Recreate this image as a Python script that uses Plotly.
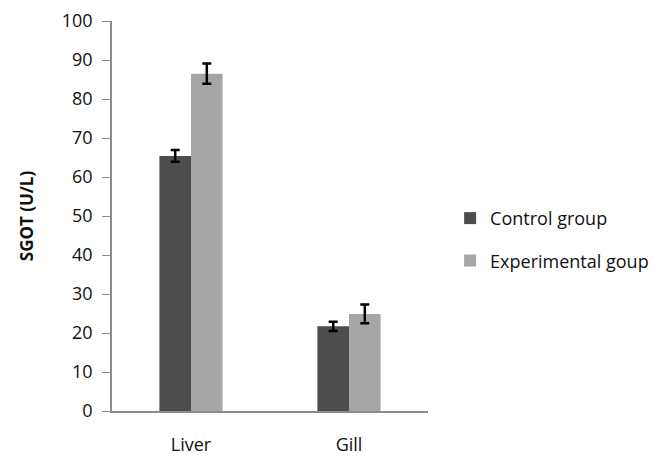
import plotly.graph_objects as go

categories = ["Liver", "Gill"]
control = [65.4, 21.7]
control_err = [1.5, 1.2]
experimental = [86.5, 24.9]
experimental_err = [2.6, 2.4]
yticks = list(range(0, 101, 10))

font = "Open Sans, Noto Sans, sans-serif"

fig = go.Figure()
fig.add_trace(go.Bar(
    x=categories, y=control, name="Control group", legendgroup="a",
    marker=dict(color="#4d4d4d", line=dict(width=0)),
    error_y=dict(type="data", array=control_err, color="black", thickness=2.5, width=4.5),
))
fig.add_trace(go.Bar(
    x=categories, y=experimental, name="Experimental goup", legendgroup="b",
    marker=dict(color="#a6a6a6", line=dict(width=0)),
    error_y=dict(type="data", array=experimental_err, color="black", thickness=2.5, width=4.5),
))

# page body has an 8px default margin, so the figure is sized/offset accordingly
fig.update_layout(
    width=658, height=448,
    margin=dict(l=104, r=238, t=13, b=45),
    paper_bgcolor="white", plot_bgcolor="white",
    barmode="group", bargap=0.6, bargroupgap=0,
    font=dict(family=font, size=18, color="#111111"),
    showlegend=True,
    legend=dict(x=1.07, y=0.44, xanchor="left", yanchor="middle",
                traceorder="grouped", tracegroupgap=16,
                font=dict(size=18), itemwidth=30, bgcolor="rgba(0,0,0,0)"),
    xaxis=dict(showline=True, linecolor="#8c8c8c", linewidth=1.5,
               ticks="", showgrid=False, ticklabelstandoff=17, automargin=False,
               tickfont=dict(size=18)),
    yaxis=dict(range=[0, 100], tickvals=yticks, showline=True, linecolor="#8c8c8c",
               linewidth=1.5, ticks="outside", ticklen=8, tickcolor="#8c8c8c",
               showgrid=False, zeroline=False, tickfont=dict(size=18),
               ticklabelstandoff=6, automargin=False,
               title=dict(text="<b>SGOT (U/L)</b>", font=dict(size=17), standoff=24)),
)

fig.write_html("out.html")
